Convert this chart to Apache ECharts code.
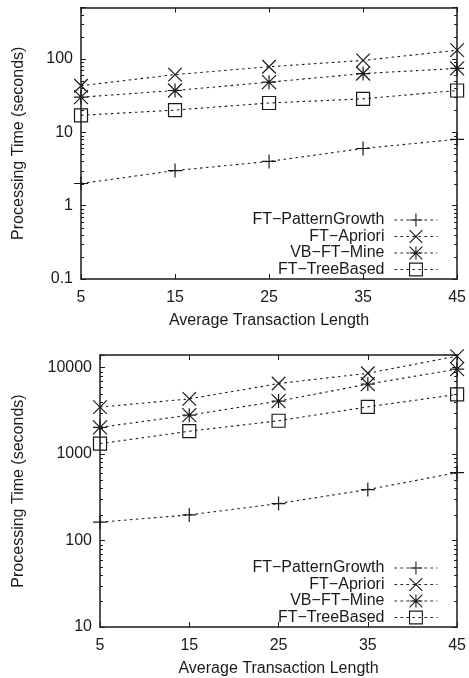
<!DOCTYPE html>
<html>
<head>
<meta charset="utf-8">
<style>
  html, body { margin: 0; padding: 0; background: #fff; }
  #chart { width: 469px; height: 678px; }
</style>
<script src="https://cdn.jsdelivr.net/npm/echarts@6/dist/echarts.min.js"></script>
</head>
<body>
<div id="chart"></div>
<script>
// Average transaction length (x categories)
const lengths = ['5', '15', '25', '35', '45'];

// Series names, shared by both panels
const seriesNames = ['FT\u2212PatternGrowth', 'FT\u2212Apriori', 'VB\u2212FT\u2212Mine', 'FT\u2212TreeBased'];

// Upper panel: processing time (seconds)
const topPatternGrowth = [2, 3, 4, 6, 8];
const topApriori = [43, 61, 78, 95, 131];
const topVBFTMine = [30, 37, 48, 63, 74];
const topTreeBased = [17, 20, 25, 28.5, 37];

// Lower panel: processing time (seconds)
const botPatternGrowth = [163, 198, 268, 389, 610];
const botApriori = [3500, 4350, 6550, 8600, 13600];
const botVBFTMine = [2040, 2820, 4100, 6450, 9600];
const botTreeBased = [1320, 1840, 2430, 3520, 4900];

// Axis ranges and decade labels
const topRange = [0.1, 500];
const botRange = [10, 14000];
const topTickLabels = ['0.1', '1', '10', '100'];
const botTickLabels = ['10', '100', '1000', '10000'];

const INK = '#1a1a1a';
const FONT = '"Liberation Sans", Arial, Helvetica, sans-serif';

const symbols = [
  'path://M0,5L10,5M5,0L5,10',
  'path://M0,0L10,10M10,0L0,10',
  'path://M0,5L10,5M5,0L5,10M0,0L10,10M10,0L0,10',
  'path://M0,0L10,0L10,10L0,10Z'
];
const symbolSizes = [14, 13.5, 14, 13];
const DASH = [2.5, 3.5];

function decadeFormatter(labels) {
  return function (v) {
    const l = Math.log10(v);
    const e = Math.round(l);
    if (Math.abs(l - e) > 1e-6) return '';
    const p = Math.pow(10, e);
    const s = String(p >= 1 ? Math.round(p) : p);
    return labels.indexOf(s) >= 0 ? s : '';
  };
}

function minorValues(range) {
  const out = [];
  const lo = Math.floor(Math.log10(range[0]));
  const hi = Math.ceil(Math.log10(range[1]));
  for (let k = lo; k <= hi; k++) {
    for (let m = 2; m <= 9; m++) {
      const v = m * Math.pow(10, k);
      if (v > range[0] && v < range[1]) out.push(v);
    }
  }
  return out;
}

function makeAxes(gridIndex, range, labels, nameGapY) {
  const xBottom = {
    type: 'category', gridIndex, data: lengths, boundaryGap: false,
    axisLine: { show: true, lineStyle: { color: INK, width: 1.5 } },
    axisTick: { show: true, inside: true, length: 5, lineStyle: { color: INK } },
    axisLabel: { color: INK, fontSize: 16, fontFamily: FONT, margin: 11 },
    splitLine: { show: false },
    name: 'Average Transaction Length', nameLocation: 'middle', nameGap: 34,
    nameTextStyle: { color: INK, fontSize: 16, fontFamily: FONT }
  };
  const xTop = {
    type: 'category', gridIndex, data: lengths, boundaryGap: false, position: 'top',
    axisLine: { show: true, lineStyle: { color: INK, width: 1.5 } },
    axisTick: { show: true, inside: true, length: 5, lineStyle: { color: INK } },
    axisLabel: { show: false }, splitLine: { show: false }
  };
  const yLeft = {
    type: 'log', logBase: 10, gridIndex, min: range[0], max: range[1],
    axisLine: { show: true, lineStyle: { color: INK, width: 1.5 } },
    axisTick: { show: true, inside: true, length: 5, lineStyle: { color: INK } },
    axisLabel: { color: INK, fontSize: 16, fontFamily: FONT, margin: 8, formatter: decadeFormatter(labels) },
    splitLine: { show: false },
    name: 'Processing Time (seconds)', nameLocation: 'middle', nameGap: nameGapY,
    nameTextStyle: { color: INK, fontSize: 16, fontFamily: FONT }
  };
  const yRight = {
    type: 'log', logBase: 10, gridIndex, min: range[0], max: range[1], position: 'right',
    axisLine: { show: true, lineStyle: { color: INK, width: 1.5 } },
    axisTick: { show: true, inside: true, length: 5, lineStyle: { color: INK } },
    axisLabel: { show: false }, splitLine: { show: false }
  };
  return { x: [xBottom, xTop], y: [yLeft, yRight] };
}

const a0 = makeAxes(0, topRange, topTickLabels, 54);
const a1 = makeAxes(1, botRange, botTickLabels, 73);

function lineSeries(name, data, idx, xAxisIndex, yAxisIndex) {
  return {
    type: 'line', name, data, xAxisIndex, yAxisIndex,
    symbol: symbols[idx], symbolSize: symbolSizes[idx],
    showAllSymbol: true,
    lineStyle: { color: INK, width: 1.1, type: DASH },
    itemStyle: { color: 'rgba(0,0,0,0)', borderColor: INK, borderWidth: 1.2 },
    emphasis: { disabled: true },
    animation: false, z: 3
  };
}

// Minor tick marks at 2..9 of each decade, inside both vertical frame edges
function minorTickSeries(range, xAxisIndex, yAxisIndex) {
  const vals = minorValues(range);
  return {
    type: 'custom', xAxisIndex, yAxisIndex, data: [0], silent: true, clip: false, z: 4,
    renderItem: function (params, api) {
      const cs = params.coordSys;
      const children = [];
      vals.forEach(function (v) {
        const y = Math.round(api.coord([0, v])[1]) + 0.5;
        children.push({ type: 'line', shape: { x1: cs.x, y1: y, x2: cs.x + 3, y2: y },
          style: { stroke: INK, lineWidth: 1 } });
        children.push({ type: 'line', shape: { x1: cs.x + cs.width - 3, y1: y, x2: cs.x + cs.width, y2: y },
          style: { stroke: INK, lineWidth: 1 } });
      });
      return { type: 'group', children };
    }
  };
}

const legendBase = {
  data: seriesNames, orient: 'vertical', align: 'right', right: 26,
  itemWidth: 43, itemHeight: 16, itemGap: 0.5, selectedMode: false,
  itemStyle: { color: 'rgba(0,0,0,0)', borderColor: INK, borderWidth: 1.1 },
  lineStyle: { color: INK, width: 1.1, type: DASH },
  textStyle: { color: INK, fontSize: 16, fontFamily: FONT, lineHeight: 16, padding: [0, 5, 0, 0] }
};

const option = {
  backgroundColor: '#fff',
  animation: false,
  grid: [
    { left: 81, top: 7.5, right: 11, height: 271.5 },
    { left: 100, top: 355, right: 11.5, height: 272 }
  ],
  xAxis: [a0.x[0], a0.x[1], a1.x[0], a1.x[1]],
  yAxis: [a0.y[0], a0.y[1], a1.y[0], a1.y[1]],
  legend: [
    Object.assign({}, legendBase, { top: 207 }),
    Object.assign({}, legendBase, { top: 555 })
  ],
  series: [
    lineSeries(seriesNames[0], topPatternGrowth, 0, 0, 0),
    lineSeries(seriesNames[1], topApriori, 1, 0, 0),
    lineSeries(seriesNames[2], topVBFTMine, 2, 0, 0),
    lineSeries(seriesNames[3], topTreeBased, 3, 0, 0),
    lineSeries(seriesNames[0], botPatternGrowth, 0, 2, 2),
    lineSeries(seriesNames[1], botApriori, 1, 2, 2),
    lineSeries(seriesNames[2], botVBFTMine, 2, 2, 2),
    lineSeries(seriesNames[3], botTreeBased, 3, 2, 2),
    minorTickSeries(topRange, 0, 0),
    minorTickSeries(botRange, 2, 2)
  ]
};

const chart = echarts.init(document.getElementById('chart'), null, { renderer: 'canvas' });
chart.setOption(option);
</script>
</body>
</html>
